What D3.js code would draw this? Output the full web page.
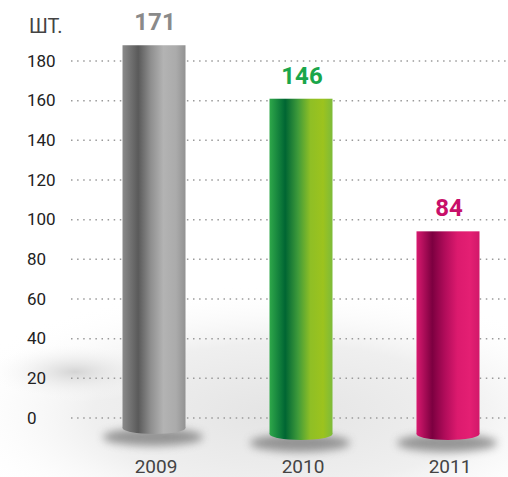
<!DOCTYPE html>
<html>
<head>
<meta charset="utf-8">
<script src="https://cdn.jsdelivr.net/npm/d3@7"></script>
<style>
  html, body { margin: 0; padding: 0; background: #fff; }
  svg { display: block; }
</style>
</head>
<body>
<div id="chart"></div>
<script>
// data
let years = ["2009", "2010", "2011"];
let values = [171, 146, 84];
let yTicks = [0, 20, 40, 60, 80, 100, 120, 140, 160, 180];
let unitLabel = "ШТ.";

let width = 508, height = 477;

let svg = d3.select("#chart").append("svg")
  .attr("width", width)
  .attr("height", height)
  .attr("font-family", "Roboto, 'DejaVu Sans Condensed', sans-serif");

let defs = svg.append("defs");

// background shading
let bg = defs.append("radialGradient").attr("id", "bgGrad")
  .attr("cx", "50%").attr("cy", "50%").attr("r", "50%");
bg.append("stop").attr("offset", "0%").attr("stop-color", "#e4e4e4");
bg.append("stop").attr("offset", "55%").attr("stop-color", "#efefef");
bg.append("stop").attr("offset", "100%").attr("stop-color", "#fff").attr("stop-opacity", 0);

let spot = defs.append("radialGradient").attr("id", "spotGrad")
  .attr("cx", "50%").attr("cy", "50%").attr("r", "50%");
spot.append("stop").attr("offset", "0%").attr("stop-color", "#d4d4d4");
spot.append("stop").attr("offset", "100%").attr("stop-color", "#fff").attr("stop-opacity", 0);

defs.append("filter").attr("id", "blur").attr("x", "-50%").attr("y", "-50%").attr("width", "200%").attr("height", "200%")
  .append("feGaussianBlur").attr("stdDeviation", 4);

svg.append("rect").attr("width", width).attr("height", height).attr("fill", "#fff");
svg.append("ellipse")
  .attr("cx", 280).attr("cy", 415).attr("rx", 340).attr("ry", 130)
  .attr("fill", "url(#bgGrad)");
svg.append("ellipse")
  .attr("cx", 75).attr("cy", 372).attr("rx", 90).attr("ry", 30)
  .attr("fill", "url(#spotGrad)");

// bar gradients
let barColors = [
  ["#8a8a8a", "#5a5a5a", "#8f8f8f", "#b3b3b3", "#ababab", "#929292"],
  ["#2fa84a", "#006633", "#3e9a3a", "#8fbf25", "#9cc31e", "#7dbb3a"],
  ["#d8196f", "#7c0040", "#b00c5a", "#dc1a6e", "#e41f73", "#d11869"]
];
let stopOffsets = ["0%", "25%", "45%", "65%", "85%", "100%"];
barColors.forEach(function (cols, i) {
  let g = defs.append("linearGradient").attr("id", "bar" + i)
    .attr("x1", "0%").attr("x2", "100%").attr("y1", "0%").attr("y2", "0%");
  cols.forEach(function (c, j) {
    g.append("stop").attr("offset", stopOffsets[j]).attr("stop-color", c);
  });
});
let labelColors = ["#8a8a8a", "#1aa64a", "#c8106a"];

// scales
let y = d3.scaleLinear().domain([0, 180]).range([418, 61]);
let barY = d3.scaleLinear().domain([0, 180]).range([411, 26]);
let x = d3.scalePoint().domain(years).range([154, 448]);
let barW = 63;
let bottoms = [428, 434, 434];

// gridlines
svg.append("g").selectAll("line").data(yTicks).join("line")
  .attr("x1", 71).attr("x2", width)
  .attr("y1", d => y(d)).attr("y2", d => y(d))
  .attr("stroke", "#9a9a9a")
  .attr("stroke-width", 1.5)
  .attr("stroke-dasharray", "1.5,4.6");

// y labels
svg.append("g").selectAll("text").data(yTicks).join("text")
  .attr("x", 27).attr("y", d => y(d))
  .attr("dy", "0.33em")
  .attr("font-size", 17)
  .attr("fill", "#222")
  .text(d => d);

svg.append("text")
  .attr("x", 29).attr("y", 33)
  .attr("font-size", 20)
  .attr("fill", "#444")
  .text(unitLabel);

// shadows
svg.append("g").selectAll("ellipse").data(values).join("ellipse")
  .attr("cx", (d, i) => x(years[i]) - 1)
  .attr("cy", (d, i) => bottoms[i] + 9)
  .attr("rx", 50).attr("ry", 9)
  .attr("fill", "#777")
  .attr("opacity", 0.75)
  .attr("filter", "url(#blur)");

// bars (cylinders)
let bars = svg.append("g").selectAll("g").data(values).join("g");
bars.append("ellipse")
  .attr("cx", (d, i) => x(years[i]))
  .attr("cy", (d, i) => bottoms[i])
  .attr("rx", barW / 2).attr("ry", 6)
  .attr("fill", (d, i) => "url(#bar" + i + ")");
bars.append("rect")
  .attr("x", (d, i) => x(years[i]) - barW / 2)
  .attr("y", d => barY(d))
  .attr("width", barW)
  .attr("height", (d, i) => bottoms[i] - barY(d))
  .attr("fill", (d, i) => "url(#bar" + i + ")");

// value labels
svg.append("g").selectAll("text").data(values).join("text")
  .attr("x", (d, i) => x(years[i]) + 1)
  .attr("y", d => barY(d) - 15)
  .attr("text-anchor", "middle")
  .attr("font-size", 24)
  .attr("font-weight", "bold")
  .attr("fill", (d, i) => labelColors[i])
  .text(d => d);

// year labels
svg.append("g").selectAll("text").data(years).join("text")
  .attr("x", d => x(d) + 2)
  .attr("y", 473)
  .attr("text-anchor", "middle")
  .attr("font-size", 19)
  .attr("fill", "#444")
  .text(d => d);
</script>
</body>
</html>
